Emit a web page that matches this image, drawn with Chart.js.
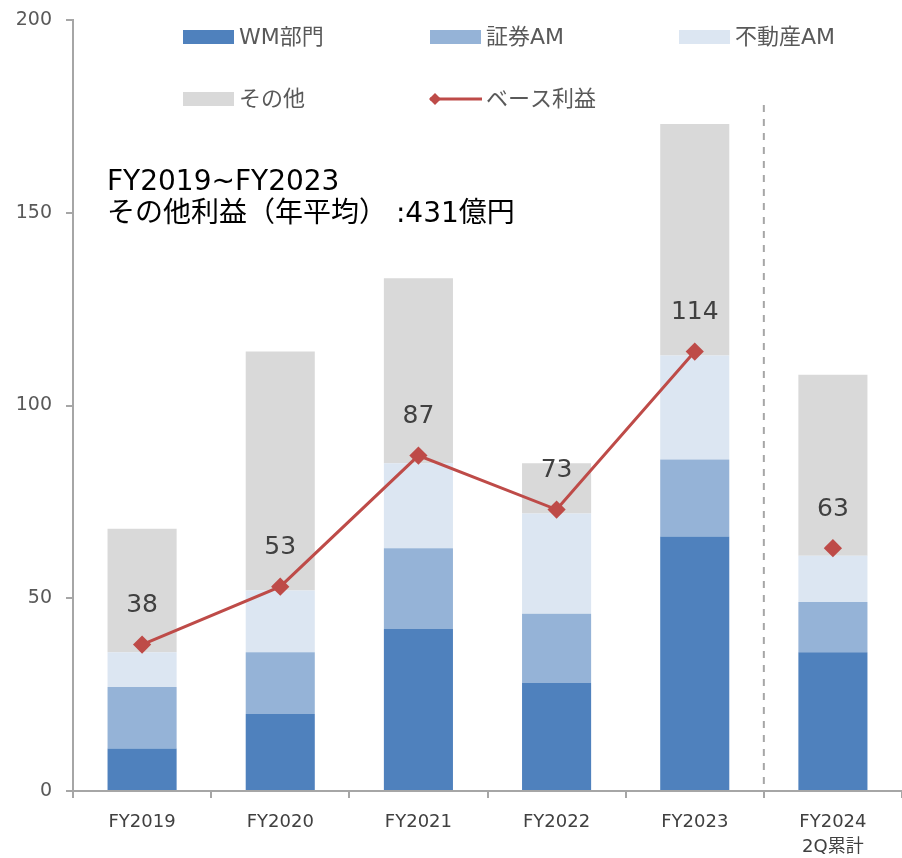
<!DOCTYPE html>
<html><head><meta charset="utf-8">
<script src="https://cdn.jsdelivr.net/npm/chart.js@4/dist/chart.umd.min.js"></script>
<style>html,body{margin:0;padding:0;background:#fff}#wrap{width:902px;height:858px}</style>
</head><body><div id="wrap"><canvas id="c" width="902" height="858"></canvas></div>
<script>
const categories = [["FY2019"],["FY2020"],["FY2021"],["FY2022"],["FY2023"],["FY2024","2Q累計"]];
const wm = [11, 20, 42, 28, 66, 36];
const secAM = [16, 16, 21, 18, 20, 13];
const reAM = [9, 16, 22, 26, 27, 12];
const other = [32, 62, 48, 13, 60, 47];
const baseProfit = [38, 53, 87, 73, 114, 63];
const yTicks = [0, 50, 100, 150, 200];
const seriesNames = ["WM部門", "証券AM", "不動産AM", "その他", "ベース利益"];
const noteLines = ["FY2019~FY2023", "その他利益（年平均） :431億円"];

const FONT = "'DejaVu Sans', 'Noto Sans CJK JP', sans-serif";
const LINE_COLOR = '#be4b48';

const legendPlugin = {
  id: 'customLegend',
  afterDraw(chart) {
    const ctx = chart.ctx;
    const cols = [183, 430, 679];
    const rows = [37, 99];
    ctx.save();
    ctx.font = '22px ' + FONT;
    ctx.textBaseline = 'middle';
    chart.data.datasets.forEach((ds, i) => {
      const x = cols[i % 3], y = rows[Math.floor(i / 3)];
      if (ds.type === 'line') {
        ctx.strokeStyle = ds.borderColor; ctx.lineWidth = 3;
        ctx.beginPath(); ctx.moveTo(x, y); ctx.lineTo(x + 52, y); ctx.stroke();
        ctx.fillStyle = ds.borderColor;
        ctx.beginPath(); ctx.moveTo(x + 5, y - 6); ctx.lineTo(x + 11, y); ctx.lineTo(x + 5, y + 6); ctx.lineTo(x - 1, y); ctx.closePath(); ctx.fill();
      } else {
        ctx.fillStyle = ds.backgroundColor;
        ctx.fillRect(x, y - 7, 51, 14);
      }
      ctx.fillStyle = '#595959';
      ctx.fillText(ds.label, x + 56, y + 1);
    });
    ctx.restore();
  }
};

const overlayPlugin = {
  id: 'overlay',
  beforeDatasetsDraw(chart) {
    const ctx = chart.ctx, xs = chart.scales.x, ca = chart.chartArea;
    const xd = (xs.getPixelForValue(4) + xs.getPixelForValue(5)) / 2;
    ctx.save();
    ctx.strokeStyle = '#a6a6a6'; ctx.lineWidth = 2; ctx.setLineDash([7, 7]);
    ctx.beginPath(); ctx.moveTo(xd, ca.top + 85); ctx.lineTo(xd, ca.bottom); ctx.stroke();
    ctx.restore();
  },
  afterDatasetsDraw(chart) {
    const ctx = chart.ctx;
    const idx = chart.data.datasets.findIndex(d => d.type === 'line');
    const meta = chart.getDatasetMeta(idx);
    ctx.save();
    ctx.font = '25px ' + FONT;
    ctx.fillStyle = '#404040';
    ctx.textAlign = 'center'; ctx.textBaseline = 'middle';
    meta.data.forEach((pt, i) => {
      ctx.fillText(String(chart.data.datasets[idx].data[i]), pt.x, pt.y - 39);
    });
    ctx.fillStyle = '#000';
    ctx.textAlign = 'left';
    ctx.font = '28px ' + FONT;
    noteLines.forEach((t, i) => ctx.fillText(t, 107, 183 + i * 32));
    ctx.restore();
  }
};

new Chart(document.getElementById('c'), {
  data: {
    labels: categories,
    datasets: [
      { type: 'bar', label: seriesNames[0], data: wm, backgroundColor: '#4f81bd', stack: 's', order: 1 },
      { type: 'bar', label: seriesNames[1], data: secAM, backgroundColor: '#95b3d7', stack: 's', order: 1 },
      { type: 'bar', label: seriesNames[2], data: reAM, backgroundColor: '#dce6f2', stack: 's', order: 1 },
      { type: 'bar', label: seriesNames[3], data: other, backgroundColor: '#d9d9d9', stack: 's', order: 1 },
      { type: 'line', label: seriesNames[4], data: baseProfit, borderColor: LINE_COLOR, backgroundColor: LINE_COLOR,
        borderWidth: 3, pointStyle: 'rectRot', pointRadius: 7, pointHoverRadius: 7, tension: 0, order: 0,
        segment: { borderColor: c => c.p1DataIndex === 5 ? 'rgba(0,0,0,0)' : LINE_COLOR } }
    ]
  },
  options: {
    responsive: false, animation: false,
    layout: { autoPadding: false, padding: { top: 20, right: 0, bottom: 0, left: 0 } },
    plugins: { legend: { display: false }, tooltip: { enabled: false } },
    datasets: { bar: { barPercentage: 0.5, categoryPercentage: 1.0 } },
    scales: {
      x: {
        stacked: true,
        grid: { display: true, drawOnChartArea: false, drawTicks: true, tickLength: 7, color: '#a6a6a6', lineWidth: 2, offset: true },
        border: { display: true, color: '#a6a6a6', width: 2 },
        ticks: { color: '#404040', font: { size: 18, family: FONT, lineHeight: 1.4 }, padding: 12, maxRotation: 0, autoSkip: false },
        afterFit(s) { s.height = 67; s.paddingLeft = 0; s.paddingRight = 0; }
      },
      y: {
        stacked: true, min: 0, max: 200,
        afterBuildTicks(s) { s.ticks = yTicks.map(v => ({ value: v })); },
        grid: { display: true, drawOnChartArea: false, drawTicks: true, tickLength: 7, color: '#a6a6a6', lineWidth: 2 },
        border: { display: true, color: '#a6a6a6', width: 2 },
        ticks: { color: '#595959', font: { size: 19, family: FONT }, padding: 14 },
        afterFit(s) { s.width = 73; s.paddingTop = 0; s.paddingBottom = 0; }
      }
    }
  },
  plugins: [legendPlugin, overlayPlugin]
});
</script></body></html>
